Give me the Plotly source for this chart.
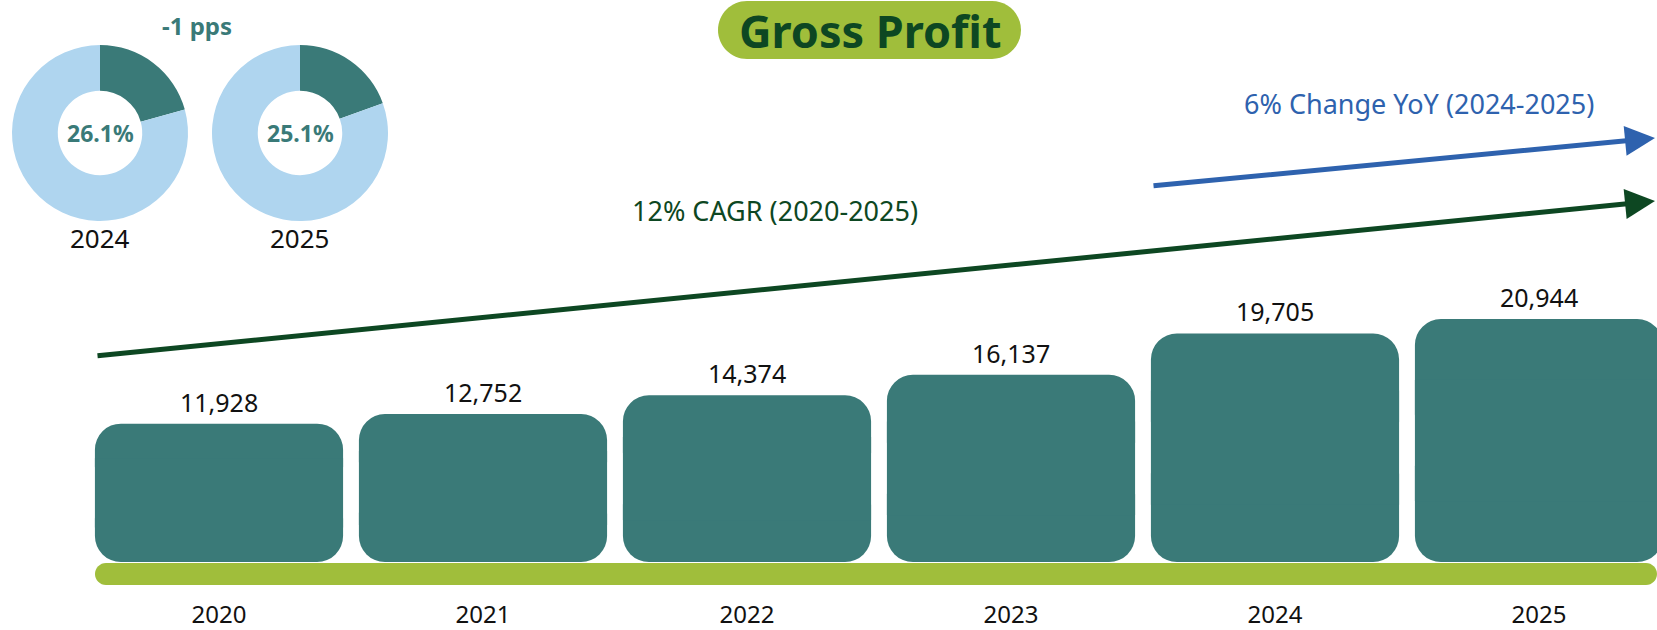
import plotly.graph_objects as go

# ---------------- data ----------------
years = ["2020", "2021", "2022", "2023", "2024", "2025"]
gross_profit = [11928, 12752, 14374, 16137, 19705, 20944]

margin_years = ["2024", "2025"]
margin_labels = ["26.1%", "25.1%"]
donut_dark_share = [20.7, 19.5]          # dark slice share as drawn in the donuts
margin_change_label = "-1 pps"

cagr_label = "12% CAGR (2020-2025)"
yoy_label = "6% Change YoY (2024-2025)"
title_text = "Gross Profit"

# ---------------- styling ----------------
W, H = 1657, 630
MB = 32                      # bottom margin for year tick labels
PH = H - MB                  # plot-area height in px
TEAL = "#3A7A78"
LIGHT_BLUE = "#AFD5EF"
LIME = "#A0BE3B"
DARK_GREEN = "#0D4722"
BLUE = "#2E62AE"
FONT = "Noto Sans"

def X(px):
    return px / W

def Y(py):
    return (PH - py) / PH

def rrect_path(x0, y0, x1, y1, r):
    k = 0.5523 * r
    pts = [
        ("M", [(x0 + r, y0)]),
        ("L", [(x1 - r, y0)]),
        ("C", [(x1 - r + k, y0), (x1, y0 + r - k), (x1, y0 + r)]),
        ("L", [(x1, y1 - r)]),
        ("C", [(x1, y1 - r + k), (x1 - r + k, y1), (x1 - r, y1)]),
        ("L", [(x0 + r, y1)]),
        ("C", [(x0 + r - k, y1), (x0, y1 - r + k), (x0, y1 - r)]),
        ("L", [(x0, y0 + r)]),
        ("C", [(x0, y0 + r - k), (x0 + r - k, y0), (x0 + r, y0)]),
    ]
    s = ""
    for cmd, ps in pts:
        s += cmd + " " + " ".join(f"{X(a):.5f},{Y(b):.5f}" for a, b in ps) + " "
    return s + "Z"

# pixel scale of the value axis
k_px = 0.0116                # px per unit
zero_px = 562                # y pixel of value 0
y_lo = -(PH - zero_px) / k_px
y_hi = zero_px / k_px

half = [v / 2 for v in gross_profit]
quarter = [v / 4 for v in gross_profit]
idx = list(range(len(years)))

fig = go.Figure()

# bars drawn as two rounded halves plus a square middle, so all four corners are rounded
fig.add_trace(go.Bar(
    x=idx, y=[v - h for v, h in zip(gross_profit, half)], base=half,
    marker=dict(color=TEAL, cornerradius=26, line=dict(width=0)),
    hoverinfo="skip", showlegend=False))
fig.add_trace(go.Bar(
    x=idx, y=[-h for h in half], base=half,
    marker=dict(color=TEAL, cornerradius=26, line=dict(width=0)),
    hoverinfo="skip", showlegend=False))
fig.add_trace(go.Bar(
    x=idx, y=half, base=quarter,
    marker=dict(color=TEAL, cornerradius=0, line=dict(width=0)),
    hoverinfo="skip", showlegend=False))

# donuts
donut_centers = [(100, 133), (300, 133)]
R = 88
for (cx, cy), share in zip(donut_centers, donut_dark_share):
    fig.add_trace(go.Pie(
        values=[share, 100 - share],
        marker=dict(colors=[TEAL, LIGHT_BLUE], line=dict(width=0)),
        hole=0.48, sort=False, direction="clockwise", rotation=0,
        textinfo="none", hoverinfo="skip", showlegend=False,
        domain=dict(x=[X(cx - R), X(cx + R)], y=[Y(cy + R), Y(cy - R)])))

def ptext(px, py, text, size, color):
    return dict(x=X(px), y=Y(py), xref="paper", yref="paper", text=text,
                showarrow=False, xanchor="center", yanchor="middle",
                font=dict(family=FONT, size=size, color=color))

annotations = []
# value labels above bars
for i, v in zip(idx, gross_profit):
    annotations.append(dict(
        x=i, y=v, xref="x", yref="y", text=f"{v:,}", showarrow=False,
        xanchor="center", yanchor="middle",
        yshift=22, font=dict(family=FONT, size=25, color="#111111")))

# donut labels
for (cx, cy), lab, yr in zip(donut_centers, margin_labels, margin_years):
    annotations.append(ptext(cx, cy, f"<b>{lab}</b>", 23, TEAL))
    annotations.append(ptext(cx, 238, yr, 26, "#111111"))
annotations.append(ptext(197, 26, f"<b>{margin_change_label}</b>", 24, TEAL))

# title
annotations.append(ptext(870, 31, f"<b>{title_text}</b>", 45, DARK_GREEN))

# arrows
annotations.append(dict(
    x=X(1655), y=Y(201), xref="paper", yref="paper", text="", showarrow=True,
    ax=96 - 1655, ay=356 - 201, axref="pixel", ayref="pixel",
    arrowhead=2, arrowsize=1.2, arrowwidth=5, arrowcolor=DARK_GREEN))
annotations.append(dict(
    x=X(1655), y=Y(138), xref="paper", yref="paper", text="", showarrow=True,
    ax=1152 - 1655, ay=186 - 138, axref="pixel", ayref="pixel",
    arrowhead=2, arrowsize=1.2, arrowwidth=5, arrowcolor=BLUE))

annotations.append(ptext(775, 210, cagr_label, 27, DARK_GREEN))
annotations.append(ptext(1419, 103, yoy_label, 27, BLUE))

shapes = [
    dict(type="path", xref="paper", yref="paper", path=rrect_path(718, 1, 1021, 59, 29),
         fillcolor=LIME, line=dict(width=0), layer="below"),
    dict(type="path", xref="paper", yref="paper", path=rrect_path(95, 563, 1657, 585, 11),
         fillcolor=LIME, line=dict(width=0), layer="below"),
]

fig.update_layout(
    width=W, height=H,
    margin=dict(l=0, r=0, t=0, b=MB, pad=0, autoexpand=False),
    paper_bgcolor="white", plot_bgcolor="white",
    barmode="overlay", bargap=0.06,
    xaxis=dict(type="linear", range=[-219 / 264, -219 / 264 + W / 264],
               tickmode="array", tickvals=idx, ticktext=years, automargin=False,
               showgrid=False, zeroline=False, showline=False, ticks="",
               tickfont=dict(family=FONT, size=24, color="#111111"), fixedrange=True),
    yaxis=dict(range=[y_lo, y_hi], visible=False, fixedrange=True, automargin=False),
    annotations=annotations, shapes=shapes,
    font=dict(family=FONT),
)

fig.write_html("out.html", config={"displayModeBar": False},
               post_script="document.body.style.margin='0';document.body.style.overflow='hidden';")
